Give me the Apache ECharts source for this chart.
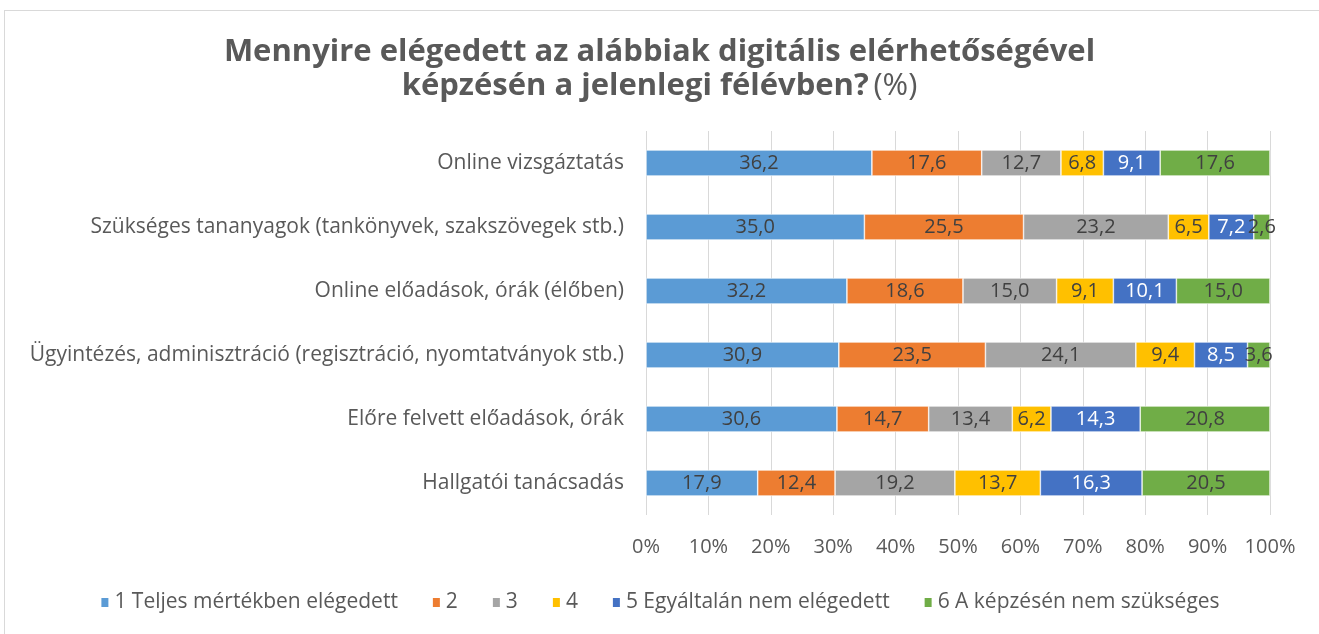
<!DOCTYPE html>
<html>
<head>
<meta charset="utf-8">
<script src="https://cdn.jsdelivr.net/npm/echarts@6/dist/echarts.min.js"></script>
<style>
  html, body { margin: 0; padding: 0; background: #fff; }
  #frame { position: absolute; left: 4px; top: 10px; width: 1330px; height: 640px; border: 1px solid #d9d9d9; }
  #chart { position: absolute; left: 0; top: 0; width: 1319px; height: 634px; }
</style>
</head>
<body>
<div id="frame"></div>
<div id="chart"></div>
<script>
const categories = [
  "Online vizsgáztatás",
  "Szükséges tananyagok (tankönyvek, szakszövegek stb.)",
  "Online előadások, órák (élőben)",
  "Ügyintézés, adminisztráció (regisztráció, nyomtatványok stb.)",
  "Előre felvett előadások, órák",
  "Hallgatói tanácsadás"
];
const seriesNames = [
  "1 Teljes mértékben elégedett",
  "2",
  "3",
  "4",
  "5 Egyáltalán nem elégedett",
  "6 A képzésén nem szükséges"
];
const s1 = [36.2, 35.0, 32.2, 30.9, 30.6, 17.9];
const s2 = [17.6, 25.5, 18.6, 23.5, 14.7, 12.4];
const s3 = [12.7, 23.2, 15.0, 24.1, 13.4, 19.2];
const s4 = [6.8, 6.5, 9.1, 9.4, 6.2, 13.7];
const s5 = [9.1, 7.2, 10.1, 8.5, 14.3, 16.3];
const s6 = [17.6, 2.6, 15.0, 3.6, 20.8, 20.5];
const xTicks = [0, 10, 20, 30, 40, 50, 60, 70, 80, 90, 100];

const colors = ["#5B9BD5", "#ED7D31", "#A5A5A5", "#FFC000", "#4472C4", "#70AD47"];
const labelColors = ["#404040", "#404040", "#404040", "#404040", "#ffffff", "#404040"];
const font = "Open Sans";

const chart = echarts.init(document.getElementById("chart"));
const allData = [s1, s2, s3, s4, s5, s6];

chart.setOption({
  textStyle: { fontFamily: font },
  title: {
    left: "center",
    top: 30,
    text: "{b|Mennyire elégedett az alábbiak digitális elérhetőségével}\n{b|képzésén a jelenlegi félévben?} {n|(%)}",
    textStyle: {
      rich: {
        b: { fontFamily: font, fontSize: 31, fontWeight: "bold", color: "#595959", lineHeight: 34 },
        n: { fontFamily: font, fontSize: 31, fontWeight: "normal", color: "#595959", lineHeight: 34 }
      }
    }
  },
  grid: { left: 646, right: 49, top: 131, bottom: 119 },
  xAxis: {
    type: "value",
    min: 0,
    max: 100,
    interval: 10,
    axisLine: { show: false },
    axisTick: { show: false },
    splitLine: { lineStyle: { color: "#d9d9d9", width: 1 } },
    axisLabel: {
      margin: 22,
      color: "#595959",
      fontSize: 20,
      fontFamily: font,
      formatter: v => (xTicks.indexOf(v) >= 0 ? v + "%" : "")
    }
  },
  yAxis: {
    type: "category",
    inverse: true,
    data: categories,
    axisLine: { show: false },
    axisTick: { show: false },
    axisLabel: { margin: 22, color: "#595959", fontSize: 21, fontFamily: font }
  },
  legend: {
    bottom: 16,
    left: "center",
    itemWidth: 9,
    itemHeight: 11,
    itemGap: 33,
    icon: "rect",
    textStyle: { color: "#595959", fontSize: 21, fontFamily: font },
    data: seriesNames
  },
  series: seriesNames.map((name, i) => ({
    name: name,
    type: "bar",
    stack: "total",
    barWidth: 26,
    itemStyle: { color: colors[i], borderColor: "#ffffff", borderWidth: 0.6 },
    label: {
      show: true,
      position: "inside",
      color: labelColors[i],
      fontSize: 20,
      fontFamily: font,
      formatter: p => p.value.toFixed(1).replace(".", ",")
    },
    data: allData[i],
    animation: false
  }))
});
</script>
</body>
</html>
